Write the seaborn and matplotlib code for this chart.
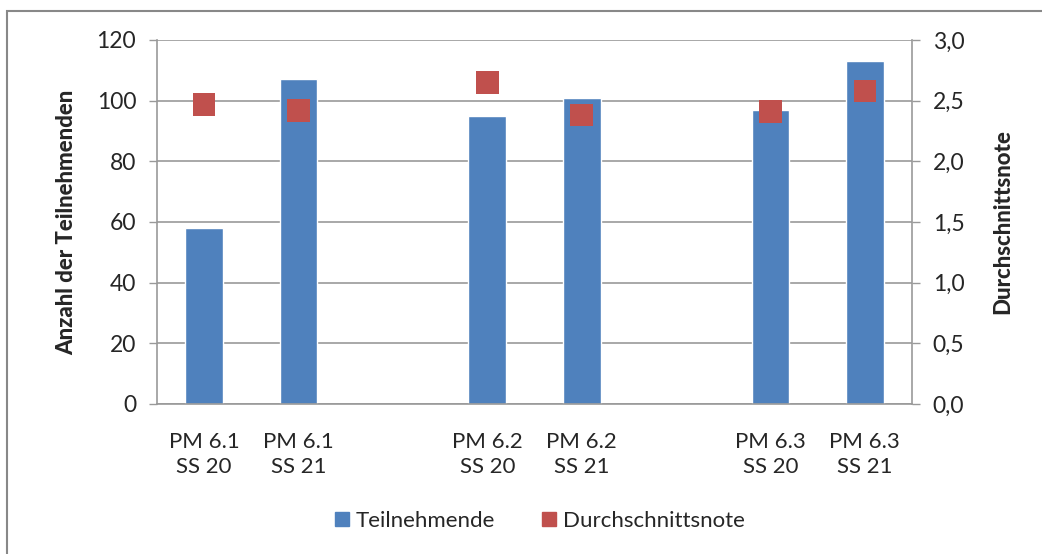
import matplotlib.pyplot as plt
import matplotlib.patches as mpatches
from matplotlib.lines import Line2D
import seaborn as sns
import pandas as pd
import numpy as np

# Daten
kategorien = ['PM 6.1\nSS 20', 'PM 6.1\nSS 21', ' ',
              'PM 6.2\nSS 20', 'PM 6.2\nSS 21', '  ',
              'PM 6.3\nSS 20', 'PM 6.3\nSS 21']
teilnehmende = [58, 107, np.nan, 95, 101, np.nan, 97, 113]
durchschnittsnote = [2.47, 2.42, np.nan, 2.65, 2.38, np.nan, 2.41, 2.58]

blau = '#4F81BD'
rot = '#C0504D'
grau = '#999999'

df = pd.DataFrame({'kategorie': kategorien,
                   'teilnehmende': teilnehmende,
                   'note': durchschnittsnote})
df['pos'] = range(len(df))

sns.set_style('white')
plt.rcParams['font.family'] = ['Lato', 'DejaVu Sans']

fig = plt.figure(figsize=(10.42, 5.54), dpi=100)
ax = fig.add_axes([157/1042, 1-404/554, (912-157)/1042, (404-40)/554])

sns.barplot(data=df, x='kategorie', y='teilnehmende', order=kategorien,
            color=blau, saturation=1, width=0.4, ax=ax, zorder=2)

ax.set_ylim(0, 120)
ax.set_yticks(range(0, 121, 20))
ax.set_xlim(-0.5, len(kategorien) - 0.5)
ax.yaxis.grid(True, color=grau, lw=1.2)
ax.set_axisbelow(True)
ax.set_xlabel('')
ax.set_ylabel('Anzahl der Teilnehmenden', fontsize=16, fontweight='black', labelpad=14)
ax.tick_params(axis='y', labelsize=16.5, length=6, color=grau, direction='out', pad=9)
ax.tick_params(axis='x', labelsize=16, length=0, pad=20)
for lab in ax.get_xticklabels():
    lab.set_linespacing(1.35)
ax.set_xticks(np.arange(-0.5, len(kategorien)), minor=True)
ax.tick_params(axis='x', which='minor', length=7, color=grau, width=1)
ax.tick_params(axis='y', width=1)
for s in ['left', 'bottom']:
    ax.spines[s].set_color(grau)
    ax.spines[s].set_linewidth(1.2)
ax.spines['top'].set_visible(False)
ax.spines['right'].set_visible(False)

ax2 = ax.twinx()
sns.scatterplot(data=df, x='pos', y='note', marker='s', s=260, color=rot,
                edgecolor='none', ax=ax2, zorder=3)
ax2.set_ylim(0, 3.0)
ax2.set_yticks(np.arange(0, 3.01, 0.5))
ax2.set_yticklabels([f'{v:.1f}'.replace('.', ',') for v in np.arange(0, 3.01, 0.5)])
ax2.set_ylabel('Durchschnittsnote', fontsize=16, fontweight='black', labelpad=20)
ax2.tick_params(axis='y', labelsize=16.5, length=6, color=grau, width=1, pad=9)
for s in ['top', 'left', 'bottom']:
    ax2.spines[s].set_visible(False)
ax2.spines['right'].set_color(grau)
ax2.spines['right'].set_linewidth(1.2)
ax2.grid(False)

handles = [Line2D([], [], marker='s', ls='', color=blau, markersize=10),
           Line2D([], [], marker='s', ls='', color=rot, markersize=10)]
fig.legend(handles, ['Teilnehmende', 'Durchschnittsnote'], loc='center',
           bbox_to_anchor=(0.515, 1-521/554), ncol=2, frameon=False,
           fontsize=16, handletextpad=0.05, columnspacing=1.8, handlelength=1.2)

# Rahmen
fig.patches.append(mpatches.Rectangle((7/1042, -0.1), 1.2, 1-11/554+0.1,
                                      transform=fig.transFigure, fill=False,
                                      edgecolor='#888888', lw=1.5))

fig.savefig('out.png', dpi=100)
